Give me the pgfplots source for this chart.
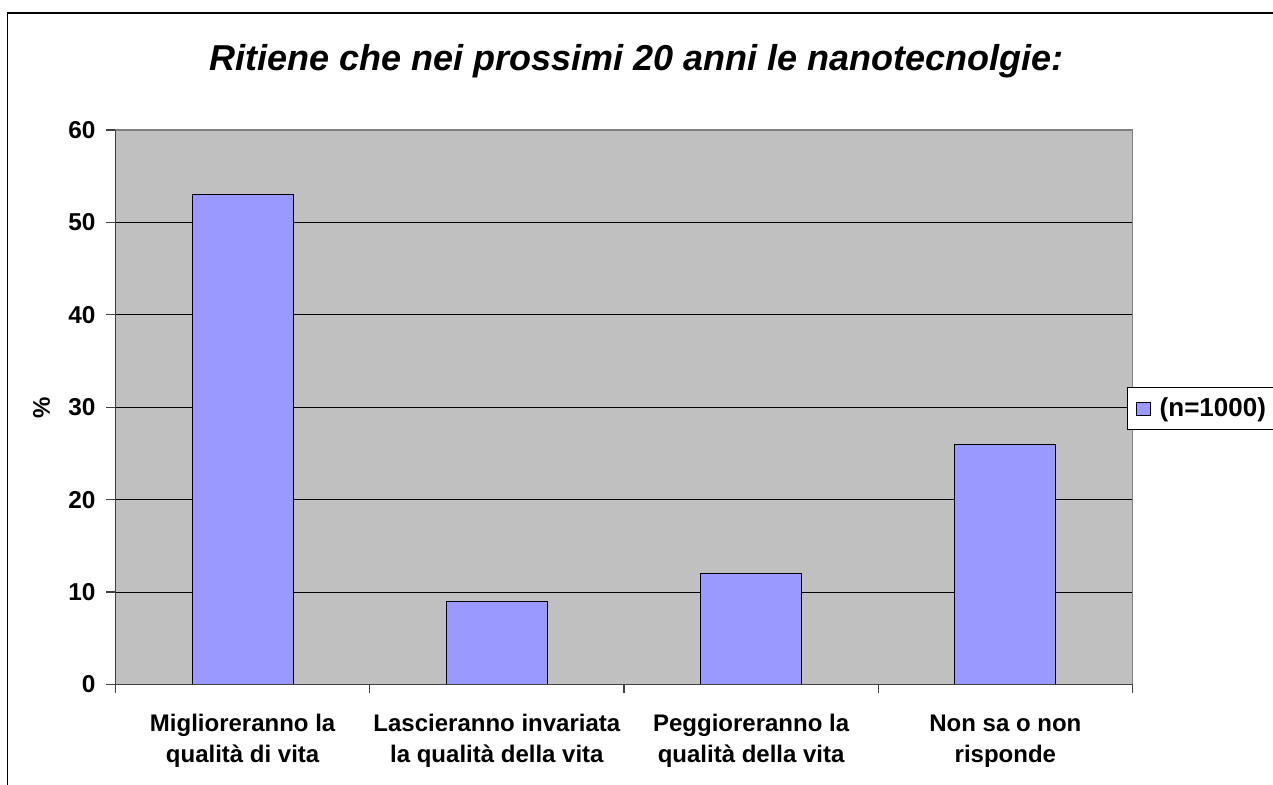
\documentclass[border=0pt]{standalone}
\usepackage{pgfplots}
\pgfplotsset{compat=1.18}
\usepackage{fontspec}
\setmainfont{Liberation Sans}
\definecolor{plotbg}{HTML}{C0C0C0}
\definecolor{barfill}{HTML}{9999FF}
\definecolor{axisdark}{HTML}{404040}
\begin{document}
\begin{tikzpicture}[x=1pt,y=1pt]
\useasboundingbox (0,0) rectangle (636.5,392.5);
\draw[line width=0.9pt] (3.75,-5) -- (3.75,386) -- (645,386);
\node[anchor=base, font=\bfseries\itshape\fontsize{18}{21}\selectfont] at (318.25,357) {Ritiene che nei prossimi 20 anni le nanotecnolgie:};
\node[rotate=90, font=\bfseries\fontsize{12}{14}\selectfont] at (20.75,188.75) {\%};
\begin{axis}[
  at={(57.75pt,50.25pt)}, anchor=south west,
  scale only axis, width=508.5pt, height=277.25pt,
  xmin=-0.5, xmax=3.5, ymin=0, ymax=60,
  axis background/.style={fill=plotbg},
  axis line style={draw=gray, line width=0.6pt},
  ytick={0,10,...,60},
  ymajorgrids,
  major grid style={black, line width=0.5pt},
  ytick pos=left, xtick pos=bottom,
  tick align=outside,
  major tick length=4.5pt,
  tick style={draw=axisdark, line width=0.6pt},
  /pgf/number format/assume math mode=true,
  yticklabel style={font=\bfseries\fontsize{12.2}{14}\selectfont, xshift=-2pt},
  xtick={-0.5,0.5,1.5,2.5,3.5},
  xticklabels={},
  extra x ticks={0,1,2,3},
  extra x tick labels={{Miglioreranno la\\qualità di vita},{Lascieranno invariata\\la qualità della vita},{Peggioreranno la\\qualità della vita},{Non sa o non\\risponde}},
  extra x tick style={major tick length=0pt, xticklabel style={align=center, font=\bfseries\fontsize{12}{15.5}\selectfont, yshift=-11.5pt}},
  legend style={at={(0.9946,0.497)}, anchor=west, draw=black, fill=white, line width=0.5pt,
    font=\bfseries\fontsize{13}{15}\selectfont, inner xsep=4pt, inner ysep=3pt},
  legend image code/.code={\draw[#1] (0pt,-3.25pt) rectangle (7pt,3.25pt);},
  after end axis/.code={\draw[axisdark, line width=0.6pt] (rel axis cs:0,1) -- (rel axis cs:0,0) -- (rel axis cs:1,0);},
]
\addplot[ybar, bar width=50.5pt, fill=barfill, draw=black, line width=0.6pt] coordinates {(0,53) (1,9) (2,12) (3,26)};
\addlegendentry{\hspace{2.5pt}(n=1000)\hspace{8pt}}
\end{axis}
\end{tikzpicture}
\end{document}
